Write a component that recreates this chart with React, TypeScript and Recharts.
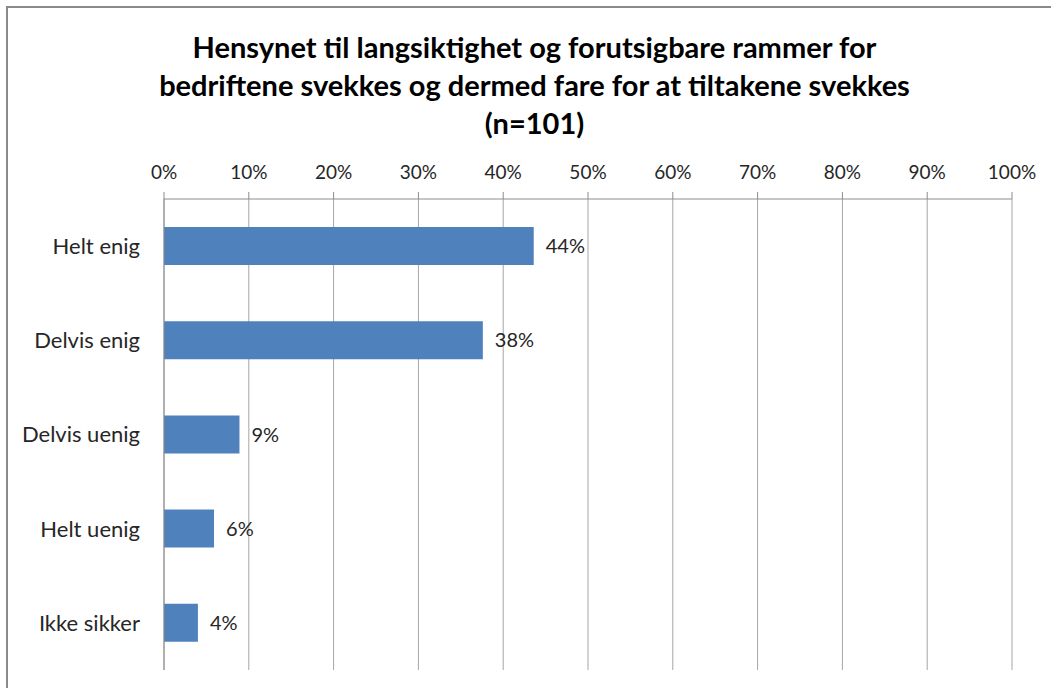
import { Bar, BarChart, CartesianGrid, LabelList, XAxis, YAxis } from "recharts";

const categories = ["Helt enig", "Delvis enig", "Delvis uenig", "Helt uenig", "Ikke sikker"];
const shares = [43.6, 37.6, 8.9, 5.9, 4.0];
const percentTicks = [0, 10, 20, 30, 40, 50, 60, 70, 80, 90, 100];
const bandEdges = [0, 1, 2, 3, 4, 5];
const titleLines = [
  "Hensynet til langsiktighet og forutsigbare rammer for",
  "bedriftene svekkes og dermed fare for at tiltakene svekkes",
  "(n=101)",
];

const FONT = "Lato, 'Open Sans', sans-serif";
const AXIS = "#8c8c8c";
const GRID = "#a6a6a6";
const TEXT = "#262626";

const chartData = categories.map((name, i) => ({ name, share: shares[i] }));

export default function App() {
  return (
    <div
      style={{
        position: "absolute",
        left: 0,
        top: 0,
        width: 1051,
        height: 688,
        overflow: "hidden",
        background: "#fff",
        fontFamily: FONT,
      }}
    >
      <div
        style={{
          position: "absolute",
          left: 6,
          top: 6,
          width: 1100,
          height: 740,
          border: "2px solid #8a8a8a",
        }}
      />
      <div
        style={{
          position: "absolute",
          left: 0,
          top: 28,
          width: 1069,
          textAlign: "center",
          fontWeight: 700,
          fontSize: 29,
          lineHeight: "38px",
          color: "#000",
        }}
      >
        {titleLines.map((line) => (
          <div key={line}>{line}</div>
        ))}
      </div>
      <BarChart
        width={1051}
        height={688}
        data={chartData}
        layout="vertical"
        margin={{ top: 169, right: 39, bottom: 18, left: 14 }}
        style={{ position: "absolute", left: 0, top: 0 }}
      >
        <CartesianGrid horizontal={false} stroke={GRID} />
        <XAxis
          type="number"
          orientation="top"
          domain={[0, 100]}
          ticks={percentTicks}
          tickFormatter={(v: number) => `${v}%`}
          height={30}
          interval={0}
          tickSize={7}
          tickMargin={13}
          axisLine={{ stroke: AXIS }}
          tickLine={{ stroke: AXIS }}
          tick={{ fill: TEXT, fontSize: 19, fontFamily: FONT }}
        />
        <YAxis
          type="category"
          dataKey="name"
          width={150}
          tickSize={0}
          tickMargin={24}
          tickLine={false}
          axisLine={{ stroke: AXIS }}
          tick={{ fill: TEXT, fontSize: 22, fontFamily: FONT }}
        />
        <YAxis
          yAxisId="edges"
          type="number"
          domain={[0, 5]}
          ticks={bandEdges}
          width={0}
          tickSize={7}
          axisLine={false}
          tickLine={{ stroke: AXIS }}
          tickFormatter={() => ""}
        />
        <Bar dataKey="share" fill="#4f81bd" barSize={38} isAnimationActive={false}>
          <LabelList
            dataKey="share"
            position="right"
            offset={12}
            formatter={(v: number) => `${Math.round(v)}%`}
            style={{ fill: TEXT, fontSize: 20, fontFamily: FONT }}
          />
        </Bar>
      </BarChart>
    </div>
  );
}
